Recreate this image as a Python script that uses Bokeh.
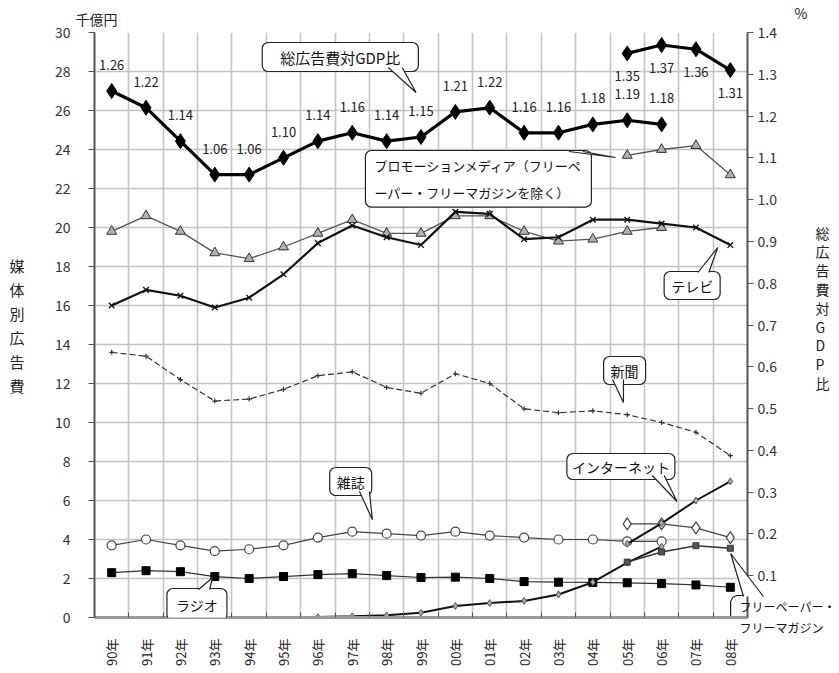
from bokeh.plotting import figure
from bokeh.models import Range1d, LinearAxis, FixedTicker, Label, PrintfTickFormatter
from bokeh.core.properties import value
from bokeh.embed import file_html
from bokeh.resources import INLINE

# ---------------- data ----------------
years = ["90年", "91年", "92年", "93年", "94年", "95年", "96年", "97年", "98年", "99年",
         "00年", "01年", "02年", "03年", "04年", "05年", "06年", "07年", "08年"]

# 総広告費対GDP比 (%)  old: 90-06, new: 05-08
gdp_old = [1.26, 1.22, 1.14, 1.06, 1.06, 1.10, 1.14, 1.16, 1.14, 1.15, 1.21, 1.22, 1.16, 1.16, 1.18, 1.19, 1.18]
gdp_new = [1.35, 1.37, 1.36, 1.31]

# 媒体別広告費 (千億円)
tv = [16.0, 16.8, 16.5, 15.9, 16.4, 17.6, 19.2, 20.1, 19.5, 19.1, 20.8, 20.7, 19.4, 19.5, 20.4, 20.4, 20.2, 20.0, 19.1]
newspaper = [13.6, 13.4, 12.2, 11.1, 11.2, 11.7, 12.4, 12.6, 11.8, 11.5, 12.5, 12.0, 10.7, 10.5, 10.6, 10.4, 10.0, 9.5, 8.3]
promo_old = [19.8, 20.6, 19.8, 18.7, 18.4, 19.0, 19.7, 20.4, 19.7, 19.7, 20.6, 20.6, 19.8, 19.3, 19.4, 19.8, 20.0]
promo_new = [23.7, 24.0, 24.2, 22.7]
magazine_old = [3.7, 4.0, 3.7, 3.4, 3.5, 3.7, 4.1, 4.4, 4.3, 4.2, 4.4, 4.2, 4.1, 4.0, 4.0, 3.9, 3.9]
magazine_new = [4.8, 4.8, 4.6, 4.1]
radio = [2.3, 2.4, 2.35, 2.1, 2.0, 2.1, 2.2, 2.25, 2.15, 2.05, 2.07, 2.0, 1.84, 1.81, 1.8, 1.78, 1.74, 1.67, 1.55]
internet_old = [0.02, 0.06, 0.11, 0.24, 0.59, 0.74, 0.85, 1.18, 1.81, 2.81, 3.63]   # 96-06
internet_new = [3.78, 4.83, 6.0, 6.98]                                               # 05-08
freepaper = [2.84, 3.36, 3.68, 3.55]                                                 # 05-08

left_ticks = list(range(0, 31, 2))
right_ticks = [0.1, 0.2, 0.3, 0.4, 0.5, 0.6, 0.7, 0.8, 0.9, 1.0, 1.1, 1.2, 1.3, 1.4]

# ---------------- layout ----------------
FONT = "Noto Sans CJK JP"
W, H = 838, 672
L, T = 94, 32
R, B = W - 752, H - 617
N = len(years)
YMAX = 30.0
GMAX = 1.4

p = figure(width=W, height=H, x_range=Range1d(-0.5, N - 0.5), y_range=Range1d(0, YMAX),
           output_backend="svg", toolbar_location=None,
           min_border_left=L, min_border_right=R, min_border_top=T, min_border_bottom=B)
p.extra_y_ranges = {"gdp": Range1d(0, GMAX)}
p.outline_line_color = None
p.background_fill_color = "white"
p.border_fill_color = "white"


def dx(px):
    return (px - L) / (W - L - R) * N - 0.5


def dy(py):
    return (H - B - py) / (H - B - T) * YMAX


def dg(py):
    return (H - B - py) / (H - B - T) * GMAX


xi = list(range(N))
idx = lambda start, arr: list(range(start, start + len(arr)))

# title "千億円"
p.title.text = "千億円"
p.title.align = "left"
p.title.offset = -19
p.title.standoff = 7
p.title.text_font = FONT
p.title.text_font_size = "14px"
p.title.text_font_style = "normal"
p.title.text_color = "#222222"

# axes
p.xaxis.ticker = FixedTicker(ticks=xi, minor_ticks=[i + 0.5 for i in range(-1, N)])
p.xaxis.major_label_overrides = {i: years[i] for i in xi}
p.xaxis.major_label_orientation = 1.5708
p.xaxis.major_tick_line_color = None
p.xaxis.minor_tick_in = 5
p.xaxis.minor_tick_out = 0
p.xaxis.minor_tick_line_color = "#555555"
p.xaxis.axis_line_color = "#999999"
p.xaxis.axis_line_width = 3
p.xaxis.major_label_standoff = 15
p.xaxis.major_label_text_font = FONT
p.xaxis.major_label_text_font_size = "13px"
p.xaxis.major_label_text_color = "#222222"

p.yaxis.ticker = FixedTicker(ticks=left_ticks)
p.yaxis.minor_tick_line_color = None
p.yaxis.major_tick_in = 0
p.yaxis.major_tick_out = 6
p.yaxis.major_label_standoff = 18
p.yaxis.axis_line_width = 2
p.yaxis.axis_line_color = "#555555"
p.yaxis.major_tick_line_color = "#555555"
p.yaxis.major_label_text_font = FONT
p.yaxis.major_label_text_font_size = "14px"
p.yaxis.major_label_text_color = "#333333"

ax2 = LinearAxis(y_range_name="gdp", ticker=FixedTicker(ticks=right_ticks),
                 formatter=PrintfTickFormatter(format="%.1f"))
ax2.minor_tick_line_color = None
ax2.major_tick_in = 0
ax2.major_tick_out = 6
ax2.major_label_standoff = 4
ax2.axis_line_width = 2
ax2.axis_line_color = "#555555"
ax2.major_tick_line_color = "#555555"
ax2.major_label_text_font = FONT
ax2.major_label_text_font_size = "14px"
ax2.major_label_text_color = "#333333"
p.add_layout(ax2, "right")


def text_axis(side, labels, positions, standoff, size, range_name=None, lh=1.2, color="#222222"):
    kw = {"y_range_name": range_name} if range_name else {}
    ax = LinearAxis(ticker=FixedTicker(ticks=positions), **kw)
    ax.major_label_overrides = {v: s for v, s in zip(positions, labels)}
    ax.axis_line_color = None
    ax.major_tick_line_color = None
    ax.minor_tick_line_color = None
    ax.major_tick_in = 0
    ax.major_tick_out = 0
    ax.major_label_standoff = standoff
    ax.major_label_text_font = FONT
    ax.major_label_text_font_size = size
    ax.major_label_text_color = color
    ax.major_label_text_line_height = lh
    p.add_layout(ax, side)
    return ax


# vertical title left: 媒体別広告費
left_title = list("媒体別広告費")
text_axis("left", left_title, [dy(265 + 24 * k) for k in range(len(left_title))], 27, "15px")

# right side: free-paper callout text, vertical title, "%"
text_axis("right", ["フリーペーパー・\nフリーマガジン"], [0.001], -40, "12px", "gdp", lh=1.2, color="#111111")
right_title = ["総", "広", "告", "費", "対", "G", "D", "P", "比"]
text_axis("right", right_title, [dg(232 + 18.8 * k) for k in range(len(right_title))], -23, "14px", "gdp")
text_axis("right", ["%\n　\n　"], [GMAX], -44, "14px", "gdp")

p.xgrid.ticker = FixedTicker(ticks=[i + 0.5 for i in range(-1, N)])
p.ygrid.ticker = FixedTicker(ticks=left_ticks)
for g in (p.xgrid, p.ygrid):
    g.grid_line_color = "#c4c4c4"
    g.grid_line_width = 1.6

# ---------------- series ----------------
for st, arr in ((0, promo_old), (15, promo_new)):
    xs = idx(st, arr)
    p.line(xs, arr, line_color="#555555", line_width=1.3)
    p.scatter(xs, arr, marker="triangle", size=10, fill_color="#b0b0b0", line_color="#333333")

p.line(xi, tv, line_color="#111111", line_width=2.2)
p.scatter(xi, tv, marker="x", size=8, line_color="#111111", line_width=1.3)

p.line(xi, newspaper, line_color="#333333", line_width=1.2, line_dash="6 3")
p.scatter(xi, newspaper, marker="cross", size=5, line_color="#333333", line_width=1.2)

xs = idx(0, magazine_old)
p.line(xs, magazine_old, line_color="#444444", line_width=1.2)
p.scatter(xs, magazine_old, marker="circle", size=9, fill_color="white", line_color="#444444", line_width=1.2)
xs = idx(15, magazine_new)
p.line(xs, magazine_new, line_color="#444444", line_width=1.2)
p.scatter(xs, magazine_new, marker="diamond", size=12, fill_color="white", line_color="#444444", line_width=1.2)

p.line(xi, radio, line_color="#333333", line_width=1.2)
p.scatter(xi, radio, marker="square", size=8, fill_color="black", line_color="black")

for st, arr in ((6, internet_old), (15, internet_new)):
    xs = idx(st, arr)
    p.line(xs, arr, line_color="#111111", line_width=2)
    p.scatter(xs, arr, marker="diamond", size=7, fill_color="#aaaaaa", line_color="#555555")

xs = idx(15, freepaper)
p.line(xs, freepaper, line_color="#333333", line_width=1.5)
p.scatter(xs, freepaper, marker="square", size=6, fill_color="#555555", line_color="#333333")

for st, arr, off, base in ((0, gdp_old, -21, "bottom"), (15, gdp_new, 18, "top")):
    xs = idx(st, arr)
    p.line(xs, arr, y_range_name="gdp", line_color="black", line_width=3.2)
    p.scatter(xs, arr, y_range_name="gdp", marker="diamond", size=15, fill_color="black", line_color="black")
    p.text(xs, arr, text=["%.2f" % v for v in arr], y_range_name="gdp", y_offset=off,
           text_align="center", text_baseline=base, text_font=value(FONT),
           text_font_size="13px", text_color="#222222")


# ---------------- callouts ----------------
def tail(base0, base1, tip):
    xs = [dx(base0[0]), dx(tip[0]), dx(base1[0])]
    ys = [dy(base0[1]), dy(tip[1]), dy(base1[1])]
    p.patch(xs, ys, fill_color="white", line_color=None, level="overlay")
    p.line(xs, ys, line_color="#222222", line_width=1.2, level="overlay")


def callout(s, left, top, base0, base1, tip, size="14px", pad=(7, 4), lh=1.4):
    p.add_layout(Label(x=dx(left), y=dy(top), text=s, anchor="top_left",
                       text_font=FONT, text_font_size=size, text_color="#111111",
                       text_line_height=lh,
                       padding=dict(left=pad[0], right=pad[0], top=pad[1], bottom=pad[1]),
                       background_fill_color="white", border_line_color="#222222",
                       border_line_width=1.2, border_radius=6))
    tail(base0, base1, tip)


callout("総広告費対GDP比", 263, 42, (390, 67), (404, 67), (418, 92), size="15px", pad=(18, 4))
callout("プロモーションメディア（フリーペ\nーパー・フリーマガジンを除く）", 367, 150,
        (572, 151), (586, 151), (619, 157), size="13px", pad=(9, 5), lh=1.45)
callout("テレビ", 668, 271, (702, 272), (713, 272), (722, 247))
callout("新聞", 607, 356, (616, 379), (627, 379), (627, 402))
callout("雑誌", 331, 467, (361, 491), (371, 491), (374, 519))
callout("インターネット", 570, 453, (656, 475), (668, 475), (681, 501), pad=(5, 3))
callout("ラジオ", 167, 588, (199, 589), (210, 589), (213, 577), pad=(9, 6))

# free-paper callout: its text lives on a right-side axis, the visible part of its box here
box = [(735, 617), (735, 601), (737, 597), (741, 595), (752, 595)]
p.line([dx(a) for a, _ in box], [dy(b) for _, b in box], line_color="#222222", line_width=1.2)
tail((748, 596), (768, 596), (735, 553))

open("out.html", "w").write(file_html(p, INLINE))
